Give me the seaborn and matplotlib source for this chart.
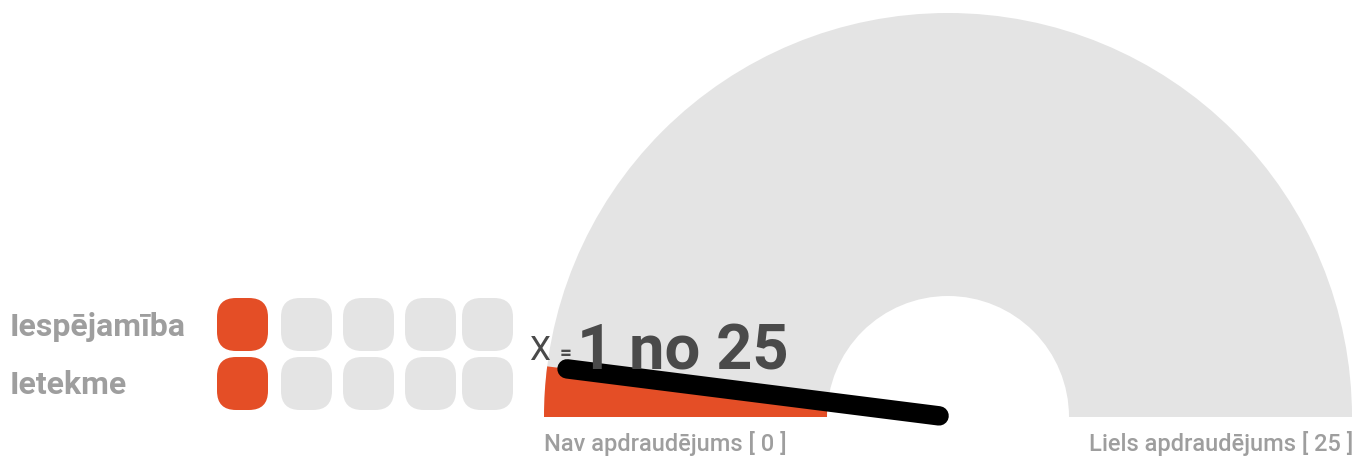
import numpy as np
import matplotlib
matplotlib.use("Agg")
import matplotlib.pyplot as plt
import seaborn as sns
from matplotlib.patches import Wedge, FancyBboxPatch

# ---- data ----
score_value = [1]
score_max = [25]
row_labels = ["Iespējamība", "Ietekme"]
row_values = [1, 1]
row_max = [5, 5]
min_label = ["Nav apdraudējums [ 0 ]"]
max_label = ["Liels apdraudējums [ 25 ]"]

sns.set_theme(style="white")
plt.rcParams['font.family'] = ['Roboto', 'DejaVu Sans']

ORANGE = "#e44e26"
GRAY = "#e4e4e4"
TXT = "#9e9e9e"
DARK = "#4a4a4a"

W, H = 1358, 457
fig = plt.figure(figsize=(W / 100, H / 100), dpi=100)
ax = fig.add_axes([0, 0, 1, 1])
ax.set_xlim(0, W)
ax.set_ylim(0, H)
ax.set_axis_off()

def Y(ypx):
    return H - ypx

# ---- gauge ----
cx, cy = 948, Y(417)
r_out, r_in = 404, 121
frac = score_value[0] / score_max[0]
ax.add_patch(Wedge((cx, cy), r_out, 0, 180, width=r_out - r_in, facecolor=GRAY, edgecolor="none"))
ax.add_patch(Wedge((cx, cy), r_out, 180 - 180 * frac, 180, width=r_out - r_in,
                   facecolor=ORANGE, edgecolor="none"))
ang = np.deg2rad(180 - 180 * frac)
r0, r1 = 9, 384
ax.plot([cx + r0 * np.cos(ang), cx + r1 * np.cos(ang)],
        [cy + r0 * np.sin(ang), cy + r1 * np.sin(ang)],
        color="black", lw=14, solid_capstyle="round", zorder=5)

# ---- texts ----
ax.text(529, Y(351), "X", fontsize=24, color=DARK, ha="left", va="center", zorder=6)
ax.text(560, Y(354), "=", fontsize=15, color=DARK, ha="left", va="center", fontweight="bold", zorder=6)
ax.text(577, Y(370), f"{score_value[0]} no {score_max[0]}", fontsize=45.5, color=DARK,
        ha="left", va="baseline", fontweight="bold", zorder=6)
ax.text(544, Y(443), min_label[0], fontsize=17, color=TXT, ha="left", va="center", fontweight=500)
ax.text(1353, Y(443), max_label[0], fontsize=17, color=TXT, ha="right", va="center", fontweight=500)

# ---- dot rows ----
col_x = [217, 281, 343, 405, 462]
row_y = [298, 357]
sq_w, sq_h = 51, 53
rad = 19
for r, (lab, val, mx) in enumerate(zip(row_labels, row_values, row_max)):
    ax.text(10, Y(row_y[r] + sq_h / 2 + 2), lab, fontsize=23, color=TXT,
            fontweight="bold", ha="left", va="center")
    for i in range(mx):
        col = ORANGE if i < val else GRAY
        ax.add_patch(FancyBboxPatch((col_x[i] + rad, Y(row_y[r] + sq_h) + rad),
                                    sq_w - 2 * rad, sq_h - 2 * rad,
                                    boxstyle=f"round,pad={rad}", facecolor=col, edgecolor="none"))

fig.savefig("out.png", dpi=100)
